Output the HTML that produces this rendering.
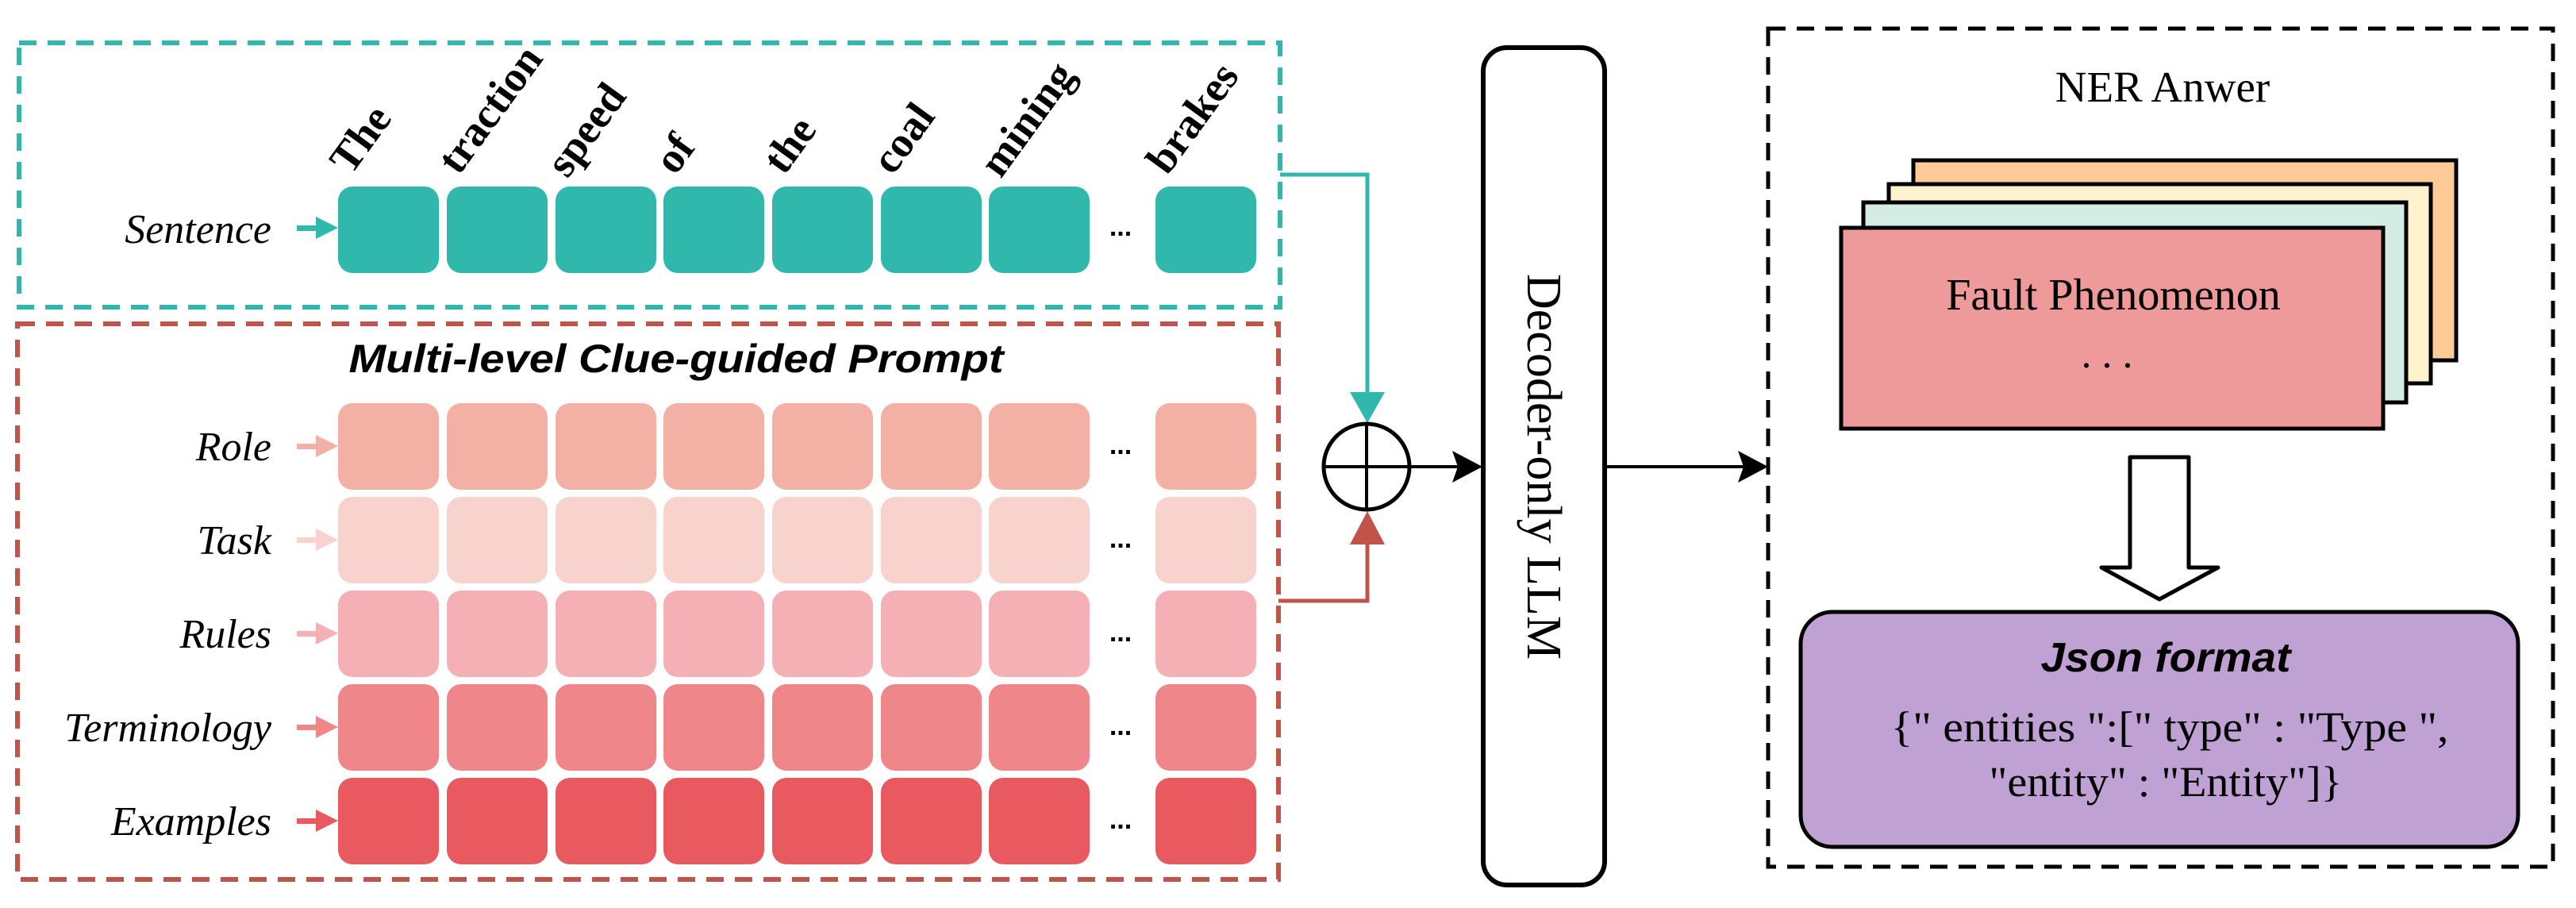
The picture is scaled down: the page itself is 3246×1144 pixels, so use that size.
<!DOCTYPE html>
<html><head><meta charset="utf-8"><style>html,body{margin:0;padding:0;background:#fff}svg{display:block}</style></head><body>
<svg width="3246" height="1144" viewBox="0 0 3246 1144" xmlns="http://www.w3.org/2000/svg">
<rect x="24" y="54" width="1589" height="333" fill="none" stroke="#31B8AC" stroke-width="6" stroke-dasharray="22 14"/>
<rect x="22" y="408" width="1589" height="700" fill="none" stroke="#C0544A" stroke-width="6" stroke-dasharray="22 14"/>

<g font-family="Liberation Serif, serif" font-style="italic" font-size="52" text-anchor="end" fill="#000">
<text x="342" y="306">Sentence</text>
<text x="342" y="580">Role</text>
<text x="342" y="698">Task</text>
<text x="342" y="816">Rules</text>
<text x="342" y="934">Terminology</text>
<text x="342" y="1052">Examples</text>
</g>

<g font-family="Liberation Serif, serif" font-weight="bold" font-size="54" fill="#000">
<text transform="translate(442,222) rotate(-54)">The</text>
<text transform="translate(578,222) rotate(-54)">traction</text>
<text transform="translate(715,226) rotate(-54)">speed</text>
<text transform="translate(851,222) rotate(-54)">of</text>
<text transform="translate(988,222) rotate(-54)">the</text>
<text transform="translate(1125,222) rotate(-54)">coal</text>
<text transform="translate(1261,226) rotate(-54)">mining</text>
<text transform="translate(1471,222) rotate(-54)">brakes</text>
</g>

<text x="852" y="469" font-family="Liberation Sans, sans-serif" font-weight="bold" font-style="italic" font-size="50" text-anchor="middle" textLength="825" lengthAdjust="spacingAndGlyphs">Multi-level Clue-guided Prompt</text>

<polyline points="1613,220 1723,220 1723,500" fill="none" stroke="#31B8AC" stroke-width="5"/>
<polygon points="1701,494 1745,494 1723,533" fill="#31B8AC"/>
<polyline points="1611,757 1723,757 1723,680" fill="none" stroke="#C0544A" stroke-width="5"/>
<polygon points="1701,686 1745,686 1723,644" fill="#C0544A"/>
<ellipse cx="1722" cy="588" rx="54" ry="54" fill="none" stroke="#000" stroke-width="5"/>
<line x1="1668" y1="588" x2="1776" y2="588" stroke="#000" stroke-width="4"/>
<line x1="1722" y1="534" x2="1722" y2="642" stroke="#000" stroke-width="4"/>
<line x1="1776" y1="588" x2="1840" y2="588" stroke="#000" stroke-width="4"/>
<polygon points="1830,568 1868,588 1830,608 1837,588" fill="#000"/>
<line x1="2023" y1="588" x2="2200" y2="588" stroke="#000" stroke-width="4"/>
<polygon points="2190,568 2228,588 2190,608 2197,588" fill="#000"/>

<rect x="1869" y="60" width="153" height="1055" rx="30" fill="#fff" stroke="#000" stroke-width="6"/>
<text transform="translate(1925,588) rotate(90)" font-family="Liberation Serif, serif" font-size="62" text-anchor="middle">Decoder-only LLM</text>

<rect x="2228" y="36" width="989" height="1056" fill="none" stroke="#000" stroke-width="5" stroke-dasharray="22 14"/>
<text x="2725" y="128" font-family="Liberation Serif, serif" font-size="55" text-anchor="middle">NER Anwer</text>

<rect x="2411" y="202" width="684" height="252" fill="#FECB98" stroke="#000" stroke-width="5"/>
<rect x="2380" y="232" width="683" height="251" fill="#FFF2CC" stroke="#000" stroke-width="5"/>
<rect x="2348" y="255" width="684" height="252" fill="#D5ECE4" stroke="#000" stroke-width="5"/>
<rect x="2320" y="287" width="683" height="253" fill="#EF9A9A" stroke="#000" stroke-width="5"/>
<text x="2663" y="390" font-family="Liberation Serif, serif" font-size="56" text-anchor="middle">Fault Phenomenon</text>
<text x="2655" y="463" font-family="Liberation Serif, serif" font-size="52" text-anchor="middle">. . .</text>

<polygon points="2684,576 2758,576 2758,715 2795,715 2721,755 2648,715 2684,715" fill="#fff" stroke="#000" stroke-width="5" stroke-linejoin="round"/>

<rect x="2269" y="771" width="904" height="296" rx="40" fill="#BFA2D3" stroke="#000" stroke-width="5"/>
<text x="2729" y="846" font-family="Liberation Sans, sans-serif" font-weight="bold" font-style="italic" font-size="52" text-anchor="middle" textLength="315" lengthAdjust="spacingAndGlyphs">Json format</text>
<text x="2734" y="934" font-family="Liberation Serif, serif" font-size="54" text-anchor="middle" textLength="703" lengthAdjust="spacingAndGlyphs">{" entities ":[" type" : "Type ",</text>
<text x="2729" y="1003" font-family="Liberation Serif, serif" font-size="54" text-anchor="middle" textLength="445" lengthAdjust="spacingAndGlyphs">"entity" : "Entity"]}</text>

<g>
<g fill="#31B8AC">
<rect x="426" y="235" width="127" height="109" rx="18"/><rect x="563" y="235" width="127" height="109" rx="18"/><rect x="700" y="235" width="127" height="109" rx="18"/><rect x="836" y="235" width="127" height="109" rx="18"/><rect x="973" y="235" width="127" height="109" rx="18"/><rect x="1110" y="235" width="127" height="109" rx="18"/><rect x="1246" y="235" width="127" height="109" rx="18"/><rect x="1456" y="235" width="127" height="109" rx="18"/>
<rect x="374" y="284" width="30" height="7"/><polygon points="398,273 426,287 398,301"/>
</g>
<g fill="#F3B0A5">
<rect x="426" y="508" width="127" height="109" rx="18"/><rect x="563" y="508" width="127" height="109" rx="18"/><rect x="700" y="508" width="127" height="109" rx="18"/><rect x="836" y="508" width="127" height="109" rx="18"/><rect x="973" y="508" width="127" height="109" rx="18"/><rect x="1110" y="508" width="127" height="109" rx="18"/><rect x="1246" y="508" width="127" height="109" rx="18"/><rect x="1456" y="508" width="127" height="109" rx="18"/>
<rect x="374" y="559" width="30" height="7"/><polygon points="398,548 426,562 398,576"/>
</g>
<g fill="#F8D2CC">
<rect x="426" y="626" width="127" height="109" rx="18"/><rect x="563" y="626" width="127" height="109" rx="18"/><rect x="700" y="626" width="127" height="109" rx="18"/><rect x="836" y="626" width="127" height="109" rx="18"/><rect x="973" y="626" width="127" height="109" rx="18"/><rect x="1110" y="626" width="127" height="109" rx="18"/><rect x="1246" y="626" width="127" height="109" rx="18"/><rect x="1456" y="626" width="127" height="109" rx="18"/>
<rect x="374" y="677" width="30" height="7"/><polygon points="398,666 426,680 398,694"/>
</g>
<g fill="#F4B0B4">
<rect x="426" y="744" width="127" height="109" rx="18"/><rect x="563" y="744" width="127" height="109" rx="18"/><rect x="700" y="744" width="127" height="109" rx="18"/><rect x="836" y="744" width="127" height="109" rx="18"/><rect x="973" y="744" width="127" height="109" rx="18"/><rect x="1110" y="744" width="127" height="109" rx="18"/><rect x="1246" y="744" width="127" height="109" rx="18"/><rect x="1456" y="744" width="127" height="109" rx="18"/>
<rect x="374" y="795" width="30" height="7"/><polygon points="398,784 426,798 398,812"/>
</g>
<g fill="#EF868A">
<rect x="426" y="862" width="127" height="109" rx="18"/><rect x="563" y="862" width="127" height="109" rx="18"/><rect x="700" y="862" width="127" height="109" rx="18"/><rect x="836" y="862" width="127" height="109" rx="18"/><rect x="973" y="862" width="127" height="109" rx="18"/><rect x="1110" y="862" width="127" height="109" rx="18"/><rect x="1246" y="862" width="127" height="109" rx="18"/><rect x="1456" y="862" width="127" height="109" rx="18"/>
<rect x="374" y="913" width="30" height="7"/><polygon points="398,902 426,916 398,930"/>
</g>
<g fill="#E85A5F">
<rect x="426" y="980" width="127" height="109" rx="18"/><rect x="563" y="980" width="127" height="109" rx="18"/><rect x="700" y="980" width="127" height="109" rx="18"/><rect x="836" y="980" width="127" height="109" rx="18"/><rect x="973" y="980" width="127" height="109" rx="18"/><rect x="1110" y="980" width="127" height="109" rx="18"/><rect x="1246" y="980" width="127" height="109" rx="18"/><rect x="1456" y="980" width="127" height="109" rx="18"/>
<rect x="374" y="1031" width="30" height="7"/><polygon points="398,1020 426,1034 398,1048"/>
</g>
<g font-family="Liberation Sans, sans-serif" font-weight="bold" font-size="34" text-anchor="middle" fill="#000">
<text x="1412" y="297">...</text>
<text x="1412" y="572">...</text>
<text x="1412" y="690">...</text>
<text x="1412" y="808">...</text>
<text x="1412" y="926">...</text>
<text x="1412" y="1044">...</text>
</g>
</g>
</svg>
</body></html>
